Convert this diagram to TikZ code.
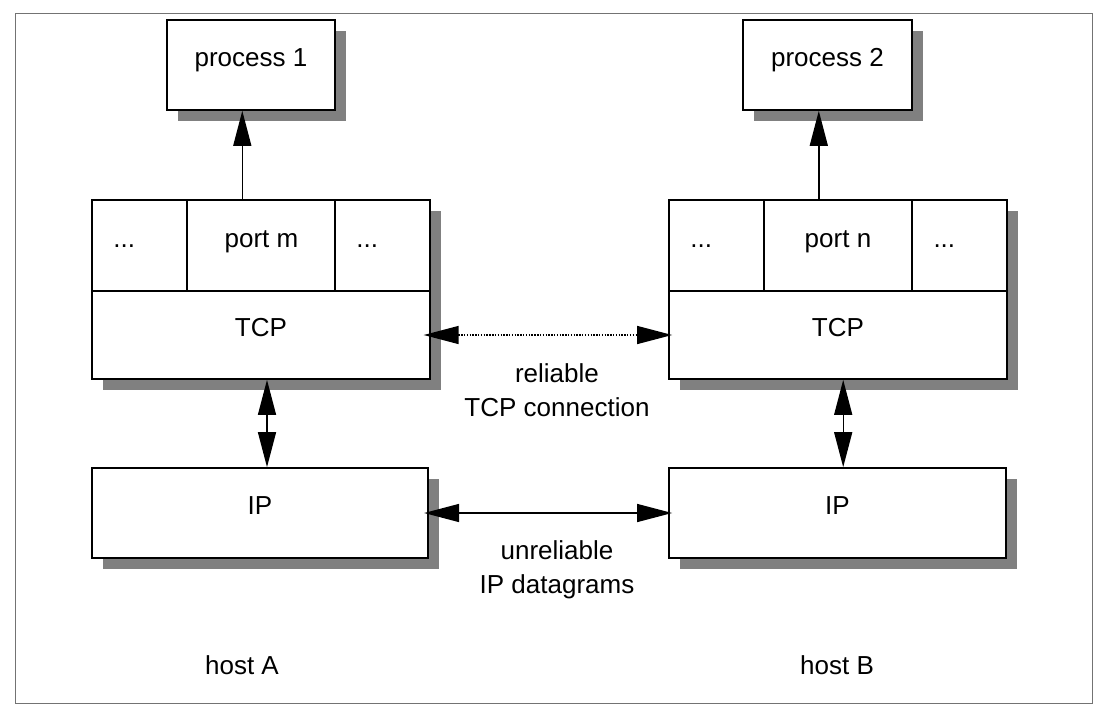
\documentclass[tikz,border=0pt]{standalone}
\usepackage{fontspec}
\setmainfont{Liberation Sans}
\usetikzlibrary{arrows.meta,shapes,calc,positioning,shadows}

\begin{document}
\begin{tikzpicture}[x=0.025cm, y=-0.025cm]
		\tikzstyle{every node}=[font=\fontsize{18.5}{24.5}\selectfont]
		\tikzstyle{box}=[draw, line width=1.2pt, fill=white, inner sep=0pt, text height=13.5pt, text depth=11pt, drop shadow={shadow xshift=0.27cm, shadow yshift=-0.27cm, fill=black!50, opacity=1}]
		\tikzstyle{cell}=[box, minimum height=2.275cm]
		\tikzstyle{dots}=[cell, minimum width=2.375cm, text width=1.3cm, align=left]
		\tikzstyle{link}=[line width=1pt, {Triangle[length=0.875cm, width=0.45cm]}-{Triangle[length=0.875cm, width=0.45cm]}]
		\useasboundingbox (0,0) rectangle (1114,712);
		\draw [black!55, line width=0.7pt] (15,13) rectangle (1092,703);
		% host A
		\node [box, minimum width=4.2cm, minimum height=2.25cm] (proc1) at (251,65) {process 1};
		\node [dots] (dotsA1) at (139.5,245.5) {...};
		\node [cell, minimum width=3.725cm] (portA) at (261.5,245.5) {port m};
		\node [dots] (dotsA2) at (382.5,245.5) {...};
		\node [box, minimum width=8.45cm, minimum height=2.2cm] (tcpA) at (261,335) {TCP};
		\node [box, minimum width=8.4cm, minimum height=2.25cm] (ipA) at (260,513) {IP};
		% host B
		\node [box, minimum width=4.225cm, minimum height=2.25cm] (proc2) at (827.5,65) {process 2};
		\node [dots] (dotsB1) at (716.5,245.5) {...};
		\node [cell, minimum width=3.7cm] (portB) at (838,245.5) {port n};
		\node [dots] (dotsB2) at (959.5,245.5) {...};
		\node [box, minimum width=8.45cm, minimum height=2.2cm] (tcpB) at (838,335) {TCP};
		\node [box, minimum width=8.425cm, minimum height=2.25cm] (ipB) at (837.5,513) {IP};
		% connections
		\draw [link, -{Triangle[length=0.875cm, width=0.45cm]}] ([xshift=-0.48cm]portA.north) coordinate (upA) -- (upA |- proc1.south);
		\draw [link, -{Triangle[length=0.875cm, width=0.45cm]}] ([xshift=-0.48cm]portB.north) coordinate (upB) -- (upB |- proc2.south);
		\draw [link] ([xshift=0.15cm]tcpA.south) coordinate (downA) -- (downA |- ipA.north);
		\draw [link] ([xshift=0.13cm]tcpB.south) coordinate (downB) -- (downB |- ipB.north);
		\draw [link, dash pattern=on 1pt off 1pt, shorten <=-0.18cm, shorten >=-0.1cm] (tcpA.east) -- (tcpB.west);
		\draw [link, shorten <=-0.12cm, shorten >=-0.1cm] (ipA.east) -- (ipB.west);
		\node [align=center] (relTCP) at (557,390) {reliable\\TCP connection};
		\node [align=center] (unrelIP) at (557,570) {unreliable\\IP datagrams};
		\node (hostA) at (242,665) {host A};
		\node (hostB) at (837,665) {host B};
	\end{tikzpicture}
\end{document}
